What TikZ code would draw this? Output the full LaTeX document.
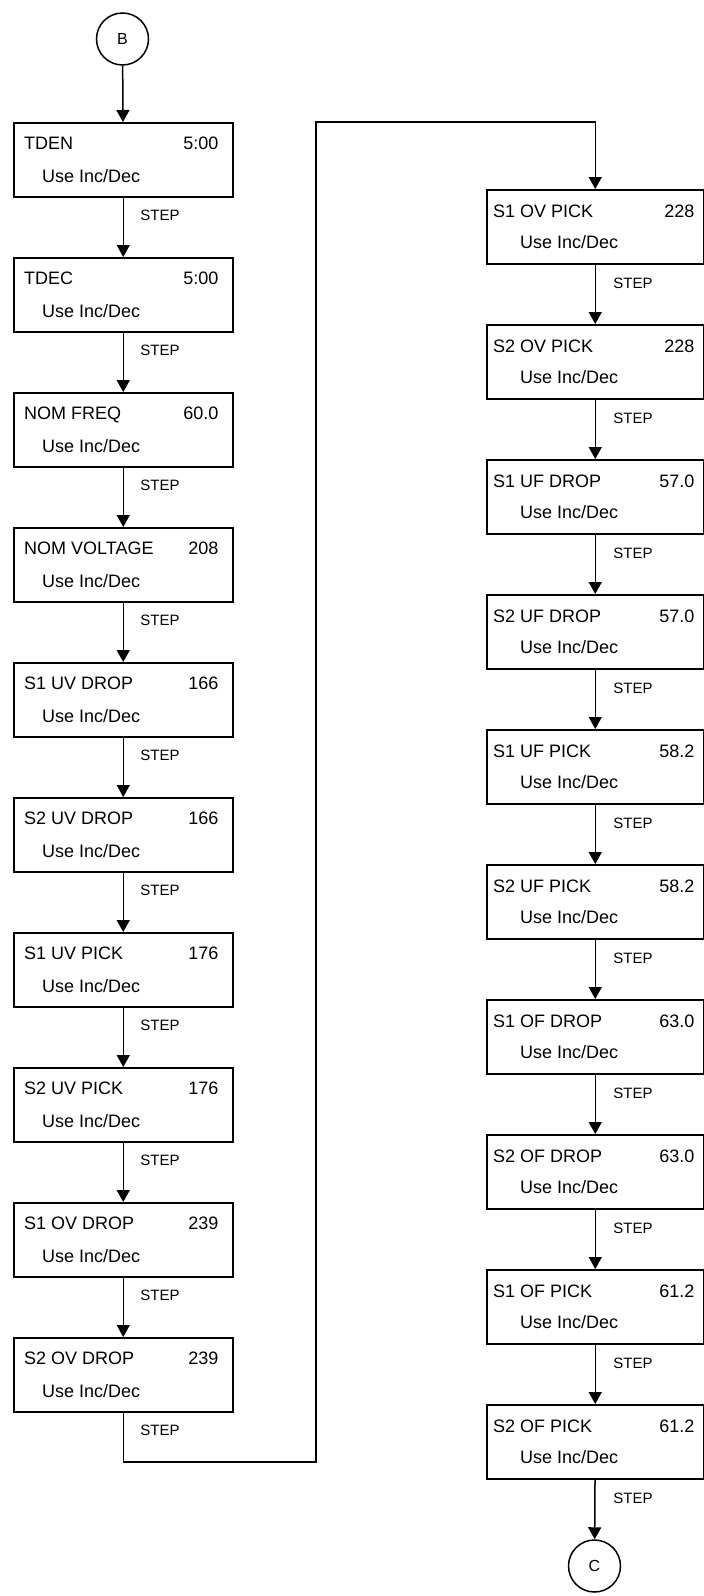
\documentclass[tikz,border=0pt]{standalone}
\usepackage{fontspec}
\setmainfont{Liberation Sans}
\usetikzlibrary{arrows.meta,calc}
\tikzset{
  box/.style={draw, line width=1.5pt, minimum height=74pt, inner sep=0pt, anchor=north west},
  lbox/.style={box, minimum width=219pt},
  rbox/.style={box, minimum width=217pt},
  conn/.style={circle, draw, line width=1.5pt, minimum size=52pt, inner sep=0pt, font=\fontsize{16}{19}\selectfont},
  arr/.style={line width=1.5pt, -{Triangle[width=13pt,length=12pt]}},
  txt/.style={inner sep=0pt, font=\fontsize{18}{21}\selectfont},
  steplbl/.style={inner sep=0pt, anchor=west, font=\fontsize{15}{18}\selectfont}
}
\begin{document}
\begin{tikzpicture}[x=1pt,y=-1pt]
\useasboundingbox (0,0) rectangle (704,1596);
\node[conn] (B) at (122.5,39) {B};
\foreach \n/\v [count=\i from 0] in {TDEN/5:00,TDEC/5:00,NOM FREQ/60.0,NOM VOLTAGE/208,S1 UV DROP/166,S2 UV DROP/166,S1 UV PICK/176,S2 UV PICK/176,S1 OV DROP/239,S2 OV DROP/239}{
  \node[lbox] (L\i) at (13,{122+135*\i}) {};
  \node[txt, anchor=base west] (Ln\i) at ($(L\i.north west)+(11,27)$) {\n};
  \node[txt, anchor=base east] (Lv\i) at ($(L\i.north east)+(-15,27)$) {\v};
  \node[txt, anchor=base west] (Lu\i) at ($(L\i.north west)+(29,60)$) {Use Inc/Dec};
  \node[steplbl] (Ls\i) at ($(L\i.south)+(17,18)$) {STEP};
}
\foreach \n/\v [count=\i from 0] in {S1 OV PICK/228,S2 OV PICK/228,S1 UF DROP/57.0,S2 UF DROP/57.0,S1 UF PICK/58.2,S2 UF PICK/58.2,S1 OF DROP/63.0,S2 OF DROP/63.0,S1 OF PICK/61.2,S2 OF PICK/61.2}{
  \node[rbox] (R\i) at (486,{189+135*\i}) {};
  \node[txt, anchor=base west] (Rn\i) at ($(R\i.north west)+(7,28)$) {\n};
  \node[txt, anchor=base east] (Rv\i) at ($(R\i.north east)+(-10,28)$) {\v};
  \node[txt, anchor=base west] (Ru\i) at ($(R\i.north west)+(34,59)$) {Use Inc/Dec};
  \node[steplbl] (Rs\i) at ($(R\i.south)+(18,19)$) {STEP};
}
\node[conn] (C) at (594.5,1566) {C};
\draw[arr] (B) -- (L0);
\foreach \i [evaluate=\i as \j using int(\i+1)] in {0,...,8}{
  \draw[arr] (L\i) -- (L\j);
  \draw[arr] (R\i) -- (R\j);
}
\coordinate (t1) at (316,1462);
\coordinate (t2) at (316,122);
\draw[arr] (L9.south) |- (t1) -- (t2) -| (R0.north);
\draw[arr] (R9) -- (C);
\end{tikzpicture}
\end{document}
